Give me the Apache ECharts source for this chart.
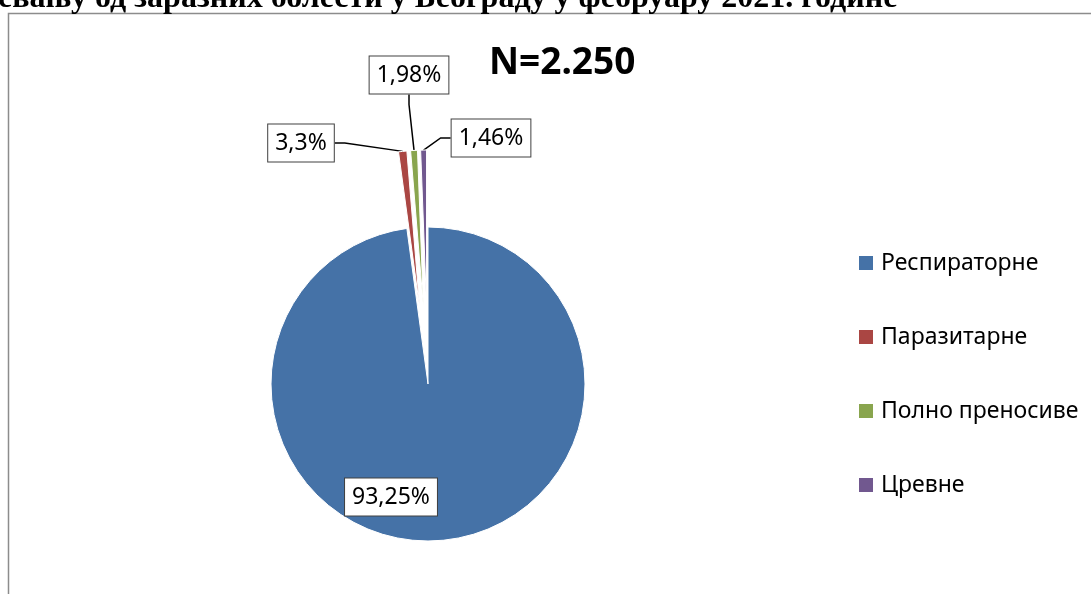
<!DOCTYPE html>
<html>
<head>
<meta charset="utf-8">
<script src="https://cdn.jsdelivr.net/npm/echarts@6/dist/echarts.min.js"></script>
<style>
  html, body { margin: 0; padding: 0; background: #fff; }
  #chart { width: 1091px; height: 594px; }
</style>
</head>
<body>
<div id="chart"></div>
<script>
// categories and the percentages printed on the labels
var categories = ['Респираторне', 'Паразитарне', 'Полно преносиве', 'Цревне'];
var shareLabels = ['93,25%', '3,3%', '1,98%', '1,46%'];
// slice sizes as they are actually drawn in the picture (measured angles)
var sliceValues = [97.85, 0.85, 0.70, 0.60];
var colors = ['#4572A7', '#AA4643', '#89A54E', '#71588F'];

var chart = echarts.init(document.getElementById('chart'));

// centres of the label boxes
var labelPos = [[391, 497], [301, 143], [409, 75], [491, 138]];

var pieData = [];
var labelData = [];
for (var i = 0; i < categories.length; i++) {
    pieData.push({
        name: categories[i],
        value: sliceValues[i],
        selected: i > 0,   // the small slices are pulled out
        itemStyle: { color: colors[i] }
    });
    labelData.push({
        name: categories[i],
        value: sliceValues[i],
        labelLine: { show: i > 0 }
    });
}

var labelStyle = {
    show: true,
    formatter: function (p) { return shareLabels[p.dataIndex]; },
    fontFamily: 'Noto Sans',
    fontSize: 23,
    lineHeight: 24,
    color: '#000',
    backgroundColor: '#fff',
    borderColor: '#404040',
    borderWidth: 1,
    padding: [7, 7, 6, 7]
};

var option = {
    animation: false,
    color: colors,
    title: {
        text: 'N=2.250',
        left: 484,
        top: 40,
        textStyle: {
            fontFamily: 'Noto Sans',
            fontWeight: 'bold',
            fontSize: 37,
            color: '#000'
        }
    },
    graphic: [
        {
            type: 'rect',
            shape: { x: 8.5, y: 13.5, width: 1200, height: 1000 },
            style: { fill: 'none', stroke: '#8c8c8c', lineWidth: 1.5 },
            silent: true
        },
        {
            type: 'text',
            left: -2,
            top: -17,
            style: {
                text: 'евању од заразних болести у Београду у фебруару 2021. године',
                font: 'bold 32px "Liberation Serif"',
                fill: '#000'
            },
            silent: true
        }
    ],
    legend: {
        orient: 'vertical',
        left: 852,
        top: 246,
        itemWidth: 16,
        itemHeight: 16,
        itemGap: 50,
        icon: 'rect',
        data: categories,
        textStyle: {
            fontFamily: 'Noto Sans',
            fontSize: 23,
            lineHeight: 24,
            color: '#000',
            padding: [0, 0, 0, 2]
        }
    },
    series: [
        {
            name: 'Оболели',
            type: 'pie',
            center: [428, 384],
            radius: 157,
            startAngle: 90,
            clockwise: true,
            selectedMode: 'multiple',
            selectedOffset: 77,
            emphasis: { disabled: true },
            itemStyle: { borderColor: '#fff', borderWidth: 1 },
            label: { show: false },
            labelLine: { show: false },
            data: pieData
        },
        {
            // invisible copy reaching out to the pulled-out tips, carries the labels
            name: 'Ознаке',
            type: 'pie',
            center: [428, 384],
            radius: 234,
            startAngle: 90,
            clockwise: true,
            silent: true,
            legendHoverLink: false,
            emphasis: { disabled: true },
            itemStyle: { color: 'rgba(0,0,0,0)', borderWidth: 0 },
            label: labelStyle,
            labelLine: {
                length: 15,
                length2: 10,
                lineStyle: { color: '#000', width: 1.5 }
            },
            labelLayout: function (p) {
                var pos = labelPos[p.dataIndex];
                return { x: pos[0], y: pos[1], align: 'center', verticalAlign: 'middle' };
            },
            data: labelData
        }
    ]
};

chart.setOption(option);
</script>
</body>
</html>
